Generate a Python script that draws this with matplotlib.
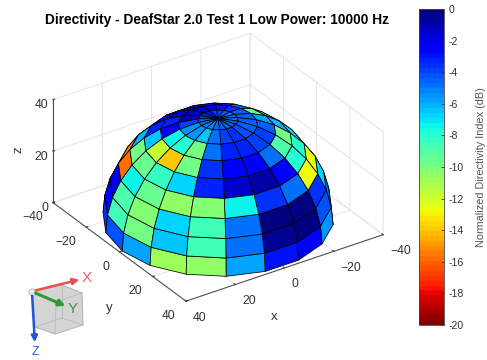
import numpy as np
import matplotlib
matplotlib.use("Agg")
import matplotlib.pyplot as plt
from matplotlib.colors import Normalize, ListedColormap
from matplotlib.cm import ScalarMappable
from matplotlib.patches import Polygon
plt.rcParams['font.family'] = ['Liberation Sans', 'DejaVu Sans']

TITLE = "Directivity - DeafStar 2.0 Test 1 Low Power: 10000 Hz"
CBAR_LABEL = "Normalized Directivity Index (dB)"
RADIUS = 38.9
AZ_EDGES = np.arange(0, 361, 20)
EL_EDGES = np.arange(0, 91, 10)
# rows: elevation bands bottom to top; columns: azimuth bands from 0 deg in 20 deg steps
row0 = [-5.7,-10.8,-10.4,-5.8,-2.9,-2.3,-5.6,-5.5,-5.0,-5.0,-5.0,-5.0,-5.0,-5.0,-4.0,-4.0,-3.5,-4.1]
row1 = [-10.0,-6.5,-8.6,-5.0,-0.4,-0.3,-4.2,-4.5,-5.0,-5.0,-5.0,-5.0,-5.0,-5.0,-4.0,-4.0,-2.5,-8.7]
row2 = [-10.3,-6.7,-8.6,-5.0,-0.3,-0.3,-3.7,-6.8,-5.0,-5.0,-5.0,-5.0,-5.0,-5.0,-4.0,-3.0,-2.0,-8.8]
row3 = [-9.5,-10.4,-10.2,-7.2,-3.5,-5.0,-12.8,-12.6,-7.0,-5.0,-5.0,-5.0,-5.0,-4.0,-3.0,-15.5,-15.8,-7.2]
row4 = [-8.2,-6.6,-3.3,-1.4,-0.9,-2.2,-7.9,-8.0,-7.0,-5.0,-5.0,-5.0,-4.0,-3.0,-3.0,-6.0,-10.0,-9.5]
row5 = [-14.0,-10.0,-3.7,-2.2,-2.8,-4.7,-9.0,-10.0,-6.0,-9.0,-5.0,-4.0,-3.0,-2.5,-2.5,-3.2,-6.5,-11.7]
row6 = [-8.0,-10.0,-4.8,-3.2,-3.3,-3.8,-4.0,-4.5,-5.8,-9.5,-5.0,-3.0,-2.5,-1.2,-1.3,-3.2,-2.4,-7.2]
row7 = [-5.6,-6.5,-5.0,-3.8,-3.6,-4.2,-4.4,-4.6,-4.5,-4.5,-3.5,-3.0,-2.0,-1.3,-1.2,-1.2,-3.8,-5.6]
row8 = [-5.2,-5.2,-5.0,-4.6,-4.4,-4.4,-4.6,-4.8,-5.0,-4.8,-4.5,-4.0,-3.5,-3.0,-3.2,-3.6,-4.4,-5.0]
VALUES = np.array([row0,row1,row2,row3,row4,row5,row6,row7,row8])
AX_TICKS = [-40,-20,0,20,40]
Z_TICKS = [0,20,40]
CBAR_TICKS = list(range(0,-21,-2))
AXIS_NAMES = ['x','y','z']

cmap = ListedColormap(plt.get_cmap('jet_r')(np.linspace(0,1,64)))
norm = Normalize(-20,0)

fig = plt.figure(figsize=(4.87,3.60), dpi=100)
ax = fig.add_axes([-30.3/487,8/360,1.0,1.0], projection='3d', computed_zorder=False)
ax.set_proj_type('ortho')
ax.view_init(elev=30, azim=56)
ax.set_xlim(-40,40); ax.set_ylim(-40,40); ax.set_zlim(0,40)
ax.set_box_aspect((2,2,1), zoom=0.962)
ax.patch.set_alpha(0)
az,el = np.meshgrid(np.radians(AZ_EDGES), np.radians(EL_EDGES))
X = RADIUS*np.cos(el)*np.cos(az); Y = RADIUS*np.cos(el)*np.sin(az); Z = RADIUS*np.sin(el)
ax.plot_surface(X,Y,Z,facecolors=cmap(norm(VALUES)),shade=False,rstride=1,cstride=1,edgecolor='k',linewidth=0.55,antialiased=True)

ax.set_xticks(AX_TICKS); ax.set_yticks(AX_TICKS); ax.set_zticks(Z_TICKS)
for a in (ax.xaxis,ax.yaxis,ax.zaxis):
    a.set_pane_color((1,1,1,0))
    a.pane.set_edgecolor((1,1,1,0))
    a.line.set_color('#555555'); a.line.set_linewidth(0.8)
    a._axinfo['grid'].update(color='#e4e4e4',linewidth=0.7)
    a._axinfo['tick'].update(inward_factor=0.0,outward_factor=0.1)
    a._axinfo['tick']['color']='#555555'
ax.tick_params(labelsize=8.7,colors='#333333',pad=-1.0)
ax.zaxis.set_tick_params(pad=-6)
ax.zaxis.set_ticks_position('lower')
for l in ax.get_xticklabels(): l.set_ha('left')
for l in ax.get_yticklabels(): l.set_ha('right')
for l in ax.get_zticklabels(): l.set_ha('right')
fig.text(274/487,1-317/360,AXIS_NAMES[0],fontsize=9.5,color='#333333',ha='center',va='center')
fig.text(109/487,1-308/360,AXIS_NAMES[1],fontsize=9.5,color='#333333',ha='center',va='center')
fig.text(18/487,1-150/360,AXIS_NAMES[2],fontsize=9.5,color='#333333',ha='center',va='center',rotation=90)

fig.text(217/487,1-20/360,TITLE,ha='center',va='center',fontsize=9.95,fontweight='bold',color='k')

cax = fig.add_axes([419/487,1-325/360,25/487,316/360])
cb = fig.colorbar(ScalarMappable(norm,cmap),cax=cax,ticks=CBAR_TICKS)
cb.ax.tick_params(labelsize=7.6,colors='#333333',length=2,width=0.6,direction='in',pad=3)
cb.outline.set_edgecolor('#444444'); cb.outline.set_linewidth(0.6)
cb.set_label(CBAR_LABEL,fontsize=7.8,color='#555555',labelpad=9)
cb.ax.set_yticklabels([str(t) for t in CBAR_TICKS])

# orientation widget, in pixel coordinates of the figure
w = fig.add_axes([0,0,1,1]); w.set_xlim(0,487); w.set_ylim(360,0); w.axis('off'); w.patch.set_alpha(0)
cube = [(32,292),(62,285),(82,293),(83,325),(55,334),(35,327)]
w.add_patch(Polygon(cube,closed=True,fc='#d4d4d4',ec='#b8b8b8',lw=0.8))
for seg in [((62,285),(62,318)),((62,318),(83,325)),((62,318),(35,327)),((32,292),(56,302)),((56,302),(82,293)),((56,302),(55,334))]:
    w.plot(*zip(*seg),color='#bcbcbc',lw=0.7)
w.annotate('',xy=(82,279),xytext=(33,291),arrowprops=dict(arrowstyle='-|>',color='#e8504f',lw=1.8,mutation_scale=9))
w.annotate('',xy=(68,307),xytext=(33,292),arrowprops=dict(arrowstyle='-|>',color='#2f9a33',lw=2.2,mutation_scale=9))
w.annotate('',xy=(35,345),xytext=(32,293),arrowprops=dict(arrowstyle='-|>',color='#1f55d8',lw=1.8,mutation_scale=9))
w.plot([32],[292],'o',ms=5,color='#e8e8e8',mec='#cccccc')
w.text(87,278,'X',color='#e8606a',fontsize=11,ha='center',va='center')
w.text(73,309,'Y',color='#3c9a40',fontsize=11,ha='center',va='center')
w.text(35,352,'Z',color='#2a5fe0',fontsize=9,ha='center',va='center')

fig.savefig('out.png',dpi=100)
